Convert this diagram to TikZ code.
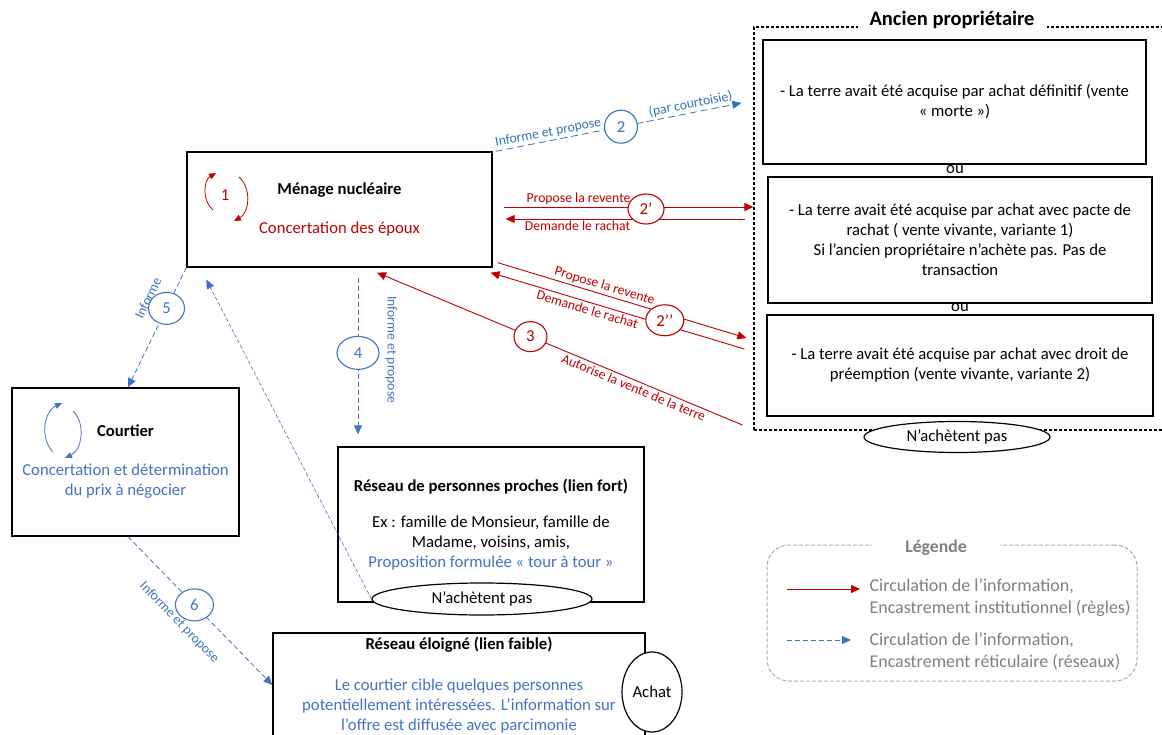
\documentclass[tikz,border=0pt]{standalone}
\usepackage{fontspec}
\setmainfont{Carlito}
\usetikzlibrary{arrows.meta,shapes.geometric}

\definecolor{rouge}{RGB}{192,0,0}
\definecolor{bleu}{RGB}{68,114,196}
\definecolor{bleuclair}{RGB}{46,117,182}
\definecolor{gris}{RGB}{128,128,128}
\definecolor{grisclair}{RGB}{170,170,170}

\begin{document}
\begin{tikzpicture}[x=1pt,y=-1pt,>={Triangle[length=9pt,width=8pt]},
    every node/.style={font=\fontsize{16.7}{20}\selectfont},
    box/.style={draw,line width=1.3pt,align=center,inner sep=0pt},
    num/.style={ellipse,draw,solid,fill=white,line width=1.1pt,minimum width=36pt,
                minimum height=32pt,inner sep=0pt},
    refus/.style={ellipse,draw,fill=white,line width=1.2pt,inner sep=0pt},
    regle/.style={->,rouge,line width=0.9pt},
    reseau/.style={->,bleu,line width=0.8pt,dash pattern=on 5pt off 3pt},
    boucle/.style={->,>={Triangle[length=7pt,width=6pt]},line width=0.8pt,bend left=55},
    lab/.style={font=\fontsize{13.7}{15}\selectfont,sloped,inner sep=2pt},
    legtxt/.style={anchor=west,align=left,text=gris,font=\fontsize{18}{22}\selectfont}]
\useasboundingbox (0,0) rectangle (1162,735);

% ancien proprietaire
\node[draw,line width=1.2pt,dash pattern=on 3pt off 2pt,minimum width=421pt,
      minimum height=403pt] (ancien) at (964.5,228.5) {};
\node[fill=white,inner xsep=12pt,font=\fontsize{20.5}{22}\selectfont\bfseries]
      (titre) at (952,20) {Ancien propriétaire};
\node[box,minimum width=383pt,minimum height=124pt] (morte) at (954.5,102)
      {- La terre avait été acquise par achat définitif (vente\\« morte »)};
\node (ou1) at (955,170) {ou};
\node[box,minimum width=384pt,minimum height=126pt] (pacte) at (960,240)
      {- La terre avait été acquise par achat avec pacte de\\rachat ( vente vivante, variante 1)\\
       Si l’ancien propriétaire n’achète pas. Pas de\\transaction};
\node (ou2) at (960,308) {ou};
\node[box,minimum width=386pt,minimum height=101pt] (preemption) at (960,365.5)
      {- La terre avait été acquise par achat avec droit de\\préemption (vente vivante, variante 2)};
\node[refus,minimum width=186pt,minimum height=31pt] (nap1) at (957,437) {N’achètent pas};

% menage, courtier, reseaux
\node[box,minimum width=305pt,minimum height=115pt] (menage) at (339.5,209.5)
      {\textbf{Ménage nucléaire}\\[19pt]\textcolor{rouge}{Concertation des époux}};
\node[box,minimum width=227pt,minimum height=148pt] (courtier) at (125.5,462)
      {\textbf{Courtier}\\[19pt]\textcolor{bleu}{Concertation et détermination}\\
       \textcolor{bleu}{du prix à négocier}};
\node[box,minimum width=306pt,minimum height=155pt] (proches) at (491,524.5)
      {\textbf{Réseau de personnes proches (lien fort)}\\[16pt]Ex : famille de Monsieur, famille de\\
       Madame, voisins, amis,\\\textcolor{bleu}{Proposition formulée « tour à tour »}};
\node[box,minimum width=372pt,minimum height=104pt] (eloigne) at (459,685)
      {\textbf{Réseau éloigné (lien faible)}\\[21pt]\textcolor{bleu}{Le courtier cible quelques personnes}\\
       \textcolor{bleu}{potentiellement intéressées. L’information sur}\\
       \textcolor{bleu}{l’offre est diffusée avec parcimonie}};
\node[refus,minimum width=220pt,minimum height=32pt] (nap2) at (482,599) {N’achètent pas};
\node[refus,minimum width=60pt,minimum height=80pt] (achat) at (652,692) {Achat};

% boucles de concertation
\node[text=rouge] (un) at (225,195) {1};
\draw[boucle,rouge] ([xshift=-12pt,yshift=-15pt]un.center) to ([xshift=-9pt,yshift=22pt]un.center);
\draw[boucle,rouge] ([xshift=14pt,yshift=18pt]un.center) to ([xshift=9pt,yshift=-26pt]un.center);
\coordinate (boucle2) at (62,430);
\draw[boucle,bleu] ([xshift=-9pt,yshift=-22pt]boucle2) to ([xshift=0pt,yshift=27pt]boucle2);
\draw[boucle,bleu] ([xshift=11pt,yshift=19pt]boucle2) to ([xshift=3pt,yshift=-28pt]boucle2);

% circulation de l'information
\draw[reseau,bleuclair,dash pattern=on 7pt off 4pt] ([xshift=3pt]menage.north east)
  -- node[num,draw=bleuclair,text=bleuclair,minimum width=33pt,minimum height=33pt,pos=0.51] {2}
     node[lab,above,pos=0.22] {Informe et propose}
     node[lab,above,pos=0.8] {(par courtoisie)}
  ([xshift=-12pt,yshift=125.5pt]ancien.west);
\draw[regle] ([xshift=-8pt,yshift=9.5pt]ancien.west)
  -- node[lab,below,text=rouge,pos=0.7] {Demande le rachat}
  ([xshift=13pt,yshift=-9.5pt]menage.east);
\draw[regle] ([xshift=11pt,yshift=2.5pt]menage.east)
  -- node[num,draw=rouge,text=rouge,minimum height=30pt,pos=0.57,yshift=-2pt] {2’}
     node[lab,above,text=rouge,pos=0.3] {Propose la revente}
  ([yshift=21.5pt]ancien.west);
\draw[regle] ([xshift=-9pt,yshift=-120.5pt]ancien.west)
  -- node[lab,below,text=rouge,pos=0.61] {Demande le rachat}
  ([xshift=-2pt,yshift=-5pt]menage.south east);
\draw[regle] ([xshift=5pt,yshift=5pt]menage.south east)
  -- node[num,draw=rouge,text=rouge,minimum width=38pt,minimum height=31pt,pos=0.672,yshift=-7pt] {2’’}
     node[lab,above,text=rouge,pos=0.42] {Propose la revente}
  ([xshift=-7pt,yshift=-109.5pt]ancien.west);
\draw[regle] ([xshift=-11pt,yshift=-196.5pt]ancien.west)
  -- node[num,draw=rouge,text=rouge,minimum width=33pt,minimum height=30pt,pos=0.58] {3}
     node[lab,below,text=rouge,pos=0.29] {Autorise la vente de la terre}
  ([xshift=37.5pt,yshift=-5pt]menage.south);
\draw[reseau] ([xshift=18.5pt,yshift=-10pt]menage.south)
  -- node[num,draw=bleu,text=bleu,minimum width=42pt,minimum height=33pt,pos=0.48] {4}
     node[lab,above=25pt,text=bleu,pos=0.46] {Informe et propose}
  ([xshift=-133pt,yshift=12pt]proches.north);
\draw[reseau] (menage.south west)
  -- node[num,draw=bleu,text=bleu,pos=0.34] {5}
     node[lab,above=14pt,text=bleu,pos=0.33] {Informe}
  ([xshift=2.5pt]courtier.north);
\draw[reseau] ([xshift=2.5pt]courtier.south)
  -- node[num,draw=bleu,text=bleu,minimum width=38pt,pos=0.46] {6}
     node[lab,below=15pt,text=bleu,pos=0.47] {Informe et propose}
  (eloigne.west);
\draw[reseau,line width=0.6pt,dash pattern=on 4pt off 2pt] (nap2.west)
  -- ([xshift=20pt,yshift=-12pt]menage.south west);

% legende
\node[draw=grisclair,line width=1pt,dash pattern=on 4pt off 2pt,rounded corners=22pt,
      minimum width=370pt,minimum height=136pt] (legende) at (952,613) {};
\node[fill=white,text=gris,inner xsep=33pt,font=\fontsize{17.7}{20}\selectfont\bfseries]
      (legtitre) at (936,548) {Légende};
\node[legtxt] (leg1) at (866,598) {Circulation de l’information,\\Encastrement institutionnel (règles)};
\node[legtxt] (leg2) at (866,651) {Circulation de l’information,\\Encastrement réticulaire (réseaux)};
\draw[regle] ([xshift=-79pt,yshift=9pt]leg1.west) -- ([xshift=-6pt,yshift=9pt]leg1.west);
\draw[reseau] ([xshift=-79pt,yshift=11pt]leg2.west) -- ([xshift=-15pt,yshift=11pt]leg2.west);
\end{tikzpicture}
\end{document}
